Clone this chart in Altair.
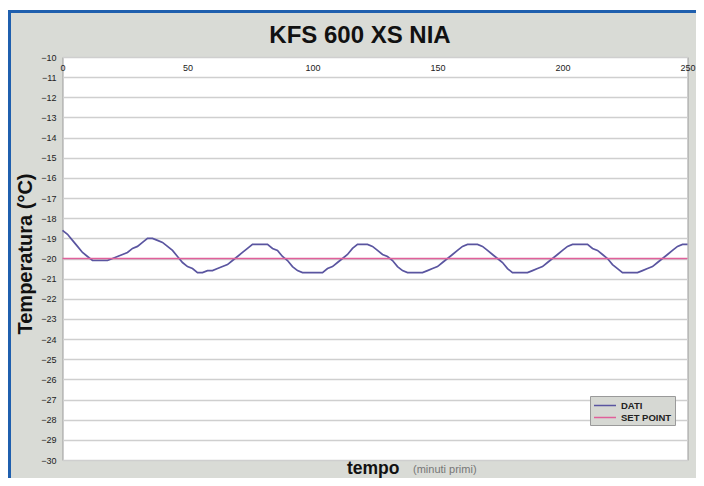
import altair as alt
import pandas as pd

# ---- data ----
tempo = [0, 2, 4, 6, 8, 10, 12, 14, 16, 18, 20, 22, 24, 26, 28, 30, 32, 34, 36, 38,
         40, 42, 44, 46, 48, 50, 52, 54, 56, 58, 60, 62, 64, 66, 68, 70, 72, 74, 76, 78,
         80, 82, 84, 86, 88, 90, 92, 94, 96, 98, 100, 102, 104, 106, 108, 110, 112, 114, 116, 118,
         120, 122, 124, 126, 128, 130, 132, 134, 136, 138, 140, 142, 144, 146, 148, 150, 152, 154, 156, 158,
         160, 162, 164, 166, 168, 170, 172, 174, 176, 178, 180, 182, 184, 186, 188, 190, 192, 194, 196, 198,
         200, 202, 204, 206, 208, 210, 212, 214, 216, 218, 220, 222, 224, 226, 228, 230, 232, 234, 236, 238,
         240, 242, 244, 246, 248, 250]
dati = [-18.6, -18.8, -19.1, -19.4, -19.7, -19.9, -20.1, -20.1, -20.1, -20.1, -20.0, -19.9, -19.8, -19.7, -19.5, -19.4, -19.2, -19.0, -19.0, -19.1,
        -19.2, -19.4, -19.6, -19.9, -20.2, -20.4, -20.5, -20.7, -20.7, -20.6, -20.6, -20.5, -20.4, -20.3, -20.1, -19.9, -19.7, -19.5, -19.3, -19.3,
        -19.3, -19.3, -19.5, -19.6, -19.9, -20.1, -20.4, -20.6, -20.7, -20.7, -20.7, -20.7, -20.7, -20.5, -20.4, -20.2, -20.0, -19.8, -19.5, -19.3,
        -19.3, -19.3, -19.4, -19.6, -19.8, -19.9, -20.1, -20.4, -20.6, -20.7, -20.7, -20.7, -20.7, -20.6, -20.5, -20.4, -20.2, -20.0, -19.8, -19.6,
        -19.4, -19.3, -19.3, -19.3, -19.4, -19.6, -19.8, -20.0, -20.2, -20.5, -20.7, -20.7, -20.7, -20.7, -20.6, -20.5, -20.4, -20.2, -20.0, -19.8,
        -19.6, -19.4, -19.3, -19.3, -19.3, -19.3, -19.5, -19.6, -19.8, -20.0, -20.3, -20.5, -20.7, -20.7, -20.7, -20.7, -20.6, -20.5, -20.4, -20.2,
        -20.0, -19.8, -19.6, -19.4, -19.3, -19.3]
setpoint_t = [0, 250]
setpoint_v = [-20, -20]
serie = ["DATI", "SET POINT"]
colori = ["#5a55a0", "#e0609a"]
x_ticks = [0, 50, 100, 150, 200, 250]
y_ticks = list(range(-30, -9))
titolo = "KFS 600 XS NIA"
y_titolo = "Temperatura (°C)"
x_titolo = "tempo"
x_sotto = "(minuti primi)"

df = pd.DataFrame({
    "t": tempo + setpoint_t,
    "v": dati + setpoint_v,
    "s": [serie[0]] * len(tempo) + [serie[1]] * len(setpoint_t),
})
one = pd.DataFrame({"k": [0]})

W, H = 625, 403
FONT = "Liberation Sans"

lines = alt.Chart(df).mark_line(strokeWidth=1.7).encode(
    x=alt.X("t:Q",
            scale=alt.Scale(domain=[0, 250], nice=False, zero=False),
            axis=alt.Axis(orient="top", values=x_ticks, grid=False, ticks=False, domain=False,
                          labelPadding=-15, labelFlush=False, labelFontSize=9, labelFont=FONT,
                          labelColor="#222", title=None)),
    y=alt.Y("v:Q",
            scale=alt.Scale(domain=[-30, -10], nice=False, zero=False),
            axis=alt.Axis(values=y_ticks, grid=True, gridColor="#cfcfcf", gridWidth=1.3,
                          ticks=False, domain=False, labelPadding=6.5, labelFontSize=9,
                          labelFont=FONT, labelColor="#222", title=None)),
    color=alt.Color("s:N",
                    scale=alt.Scale(domain=serie, range=colori),
                    legend=alt.Legend(title=None, orient="none", legendX=527.5, legendY=339,
                                      fillColor="#d6d8d3", strokeColor="#9a9a9a", padding=3,
                                      symbolType="M-1,0H3", symbolSize=121, symbolStrokeWidth=1.5,
                                      labelFontSize=9.5, labelFont=FONT, labelFontWeight="bold",
                                      labelColor="#222", rowPadding=1, labelOffset=15)),
    order=alt.Order("t:Q"),
)

title_mark = alt.Chart(one).mark_text(font=FONT, fontSize=24, fontWeight="bold", color="#111",
                                      align="center", baseline="alphabetic").encode(
    x=alt.value(297.5), y=alt.value(-14), text=alt.value(titolo))

ytitle = alt.Chart(one).mark_text(font=FONT, fontSize=20, fontWeight="bold", color="#111",
                                  align="center", baseline="alphabetic", angle=270).encode(
    x=alt.value(-31), y=alt.value(197), text=alt.value(y_titolo))

xtitle = alt.Chart(one).mark_text(font=FONT, fontSize=17.5, fontWeight="bold", color="#111",
                                  align="left", baseline="alphabetic").encode(
    x=alt.value(284.5), y=alt.value(416.5), text=alt.value(x_titolo))

xsub = alt.Chart(one).mark_text(font=FONT, fontSize=11, color="#777",
                                align="left", baseline="alphabetic").encode(
    x=alt.value(350.5), y=alt.value(415.5), text=alt.value(x_sotto))

white_top = alt.Chart(one).mark_rule(color="white", strokeWidth=2).encode(
    x=alt.value(-54.5), x2=alt.value(650), y=alt.value(-48))
border_left = alt.Chart(one).mark_rule(color="#1f5fae", strokeWidth=3).encode(
    x=alt.value(-53), y=alt.value(-47), y2=alt.value(430))
border_top = alt.Chart(one).mark_rule(color="#1f5fae", strokeWidth=3).encode(
    x=alt.value(-54.5), x2=alt.value(650), y=alt.value(-45.5))

chart = alt.layer(lines, title_mark, ytitle, xtitle, xsub, white_top, border_left, border_top).properties(
    width=W, height=H,
    autosize=alt.AutoSizeParams(type="none"),
    padding={"left": 54.5, "top": 49, "right": 8.5, "bottom": 18},
    background="#d9dbd6",
).configure_view(fill="white", stroke="#9a9a9a", strokeWidth=1)

chart.save("out.html", embed_options={"renderer": "svg", "actions": False})
